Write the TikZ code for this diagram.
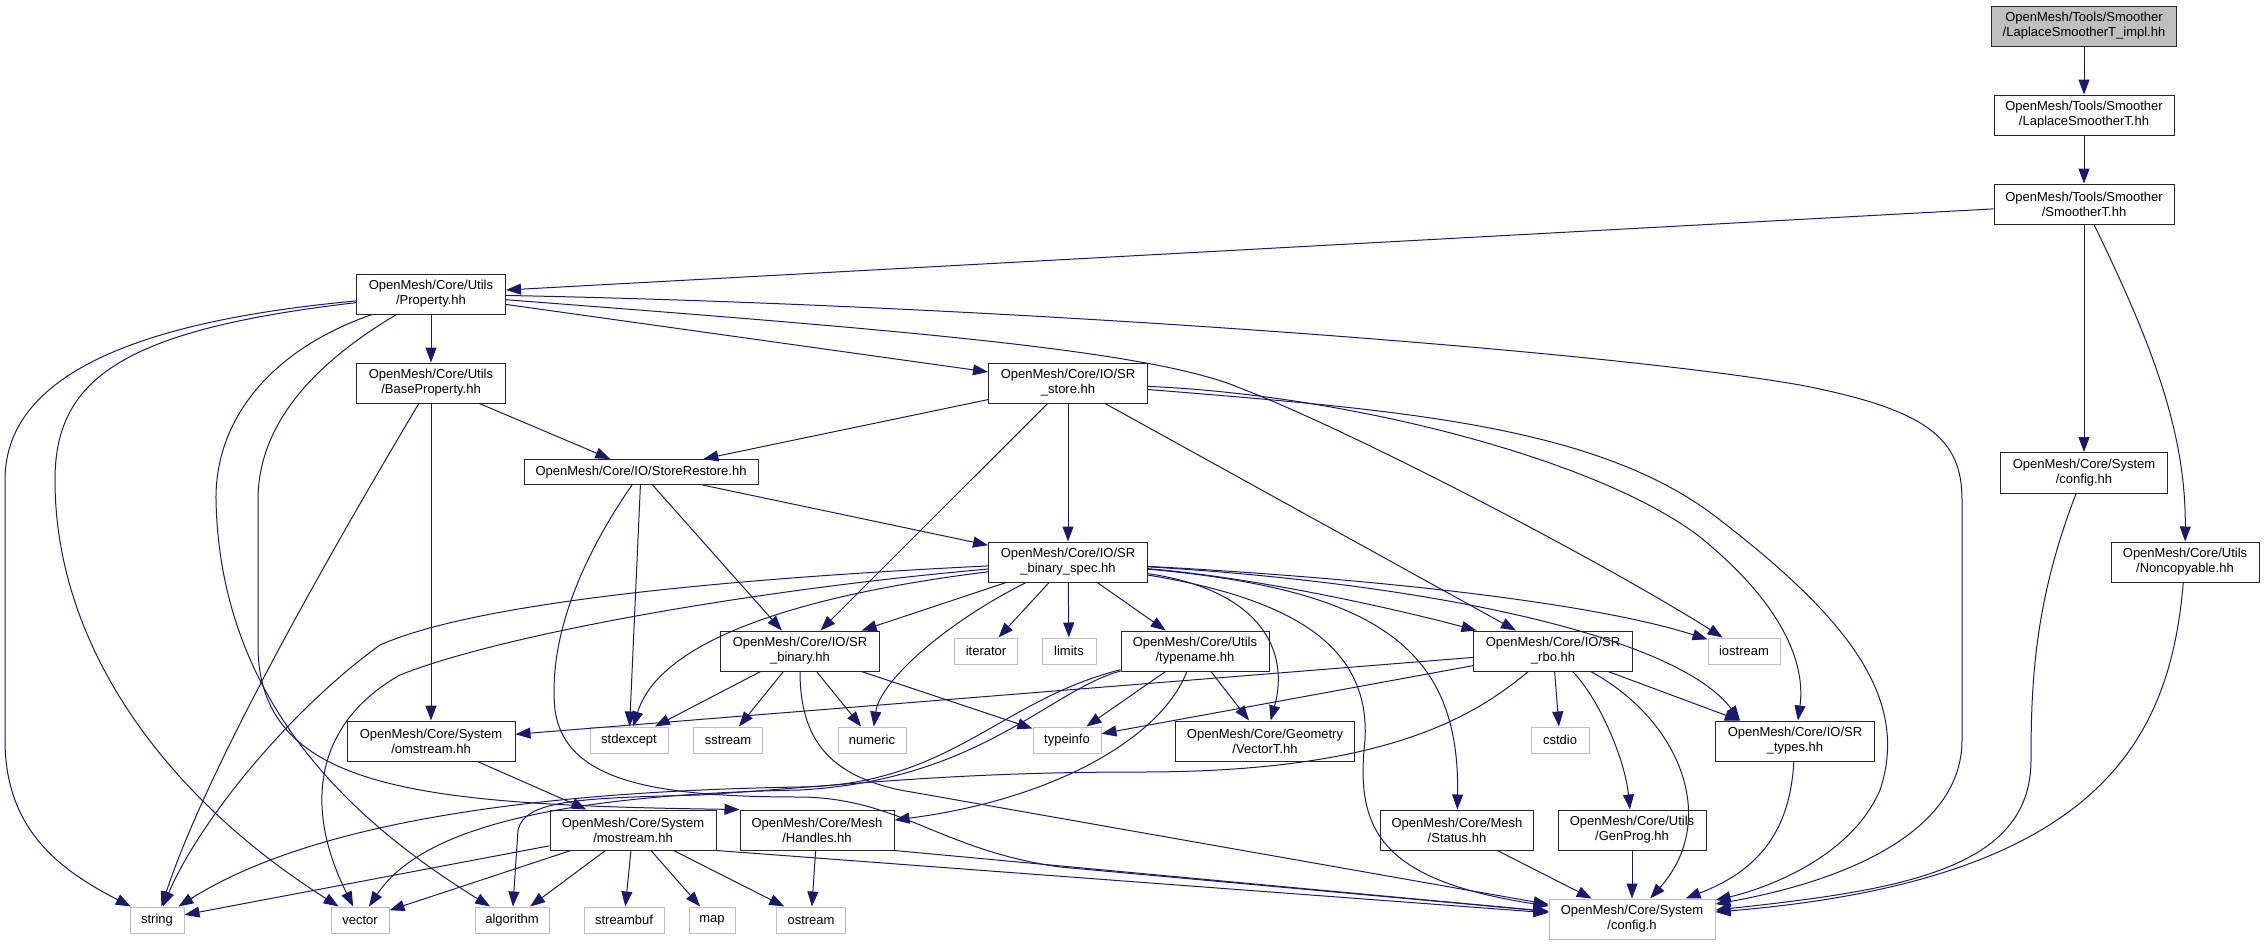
\PassOptionsToPackage{svgnames}{xcolor}
\documentclass[tikz,border=0pt]{standalone}
\usepackage{fontspec}
\setmainfont{Liberation Sans}
\usetikzlibrary{arrows.meta}

\tikzset{
  file/.style={draw=black!85, fill=white, line width=1pt, minimum height=40, inner sep=0pt, align=center},
  root/.style={file, fill=black!25},
  sys/.style={draw=black!25, fill=white, line width=1pt, minimum height=26, inner sep=0pt, align=center},
  dep/.style={draw=MidnightBlue, line width=1pt, -{Triangle[length=15pt,width=11pt]}}
}

\begin{document}
\begin{tikzpicture}[x=1pt, y=-1pt, font=\fontsize{13}{15}\selectfont]
  \useasboundingbox (0,0) rectangle (2265,945);
  \node[root, minimum width=185] (1) at (2084,26) {OpenMesh/Tools/Smoother\\/LaplaceSmootherT\_impl.hh};
  \node[file, minimum width=180] (2) at (2084,115) {OpenMesh/Tools/Smoother\\/LaplaceSmootherT.hh};
  \node[file, minimum width=180] (3) at (2084,204) {OpenMesh/Tools/Smoother\\/SmootherT.hh};
  \node[file, minimum width=149] (4) at (431,294) {OpenMesh/Core/Utils\\/Property.hh};
  \node[file, minimum width=167, minimum height=41] (5) at (2084,473) {OpenMesh/Core/System\\/config.hh};
  \node[file, minimum width=148] (6) at (2185,562) {OpenMesh/Core/Utils\\/Noncopyable.hh};
  \node[sys, minimum width=166, minimum height=40] (7) at (1632,919) {OpenMesh/Core/System\\/config.h};
  \node[file, minimum width=149] (8) at (431,383) {OpenMesh/Core/Utils\\/BaseProperty.hh};
  \node[file, minimum width=159] (9) at (1068,383) {OpenMesh/Core/IO/SR\\\_store.hh};
  \node[file, minimum width=234, minimum height=25] (10) at (641,472) {OpenMesh/Core/IO/StoreRestore.hh};
  \node[file, minimum width=159] (11) at (1068,562) {OpenMesh/Core/IO/SR\\\_binary\_spec.hh};
  \node[file, minimum width=159] (12) at (800,651) {OpenMesh/Core/IO/SR\\\_binary.hh};
  \node[file, minimum width=148] (13) at (1195,651) {OpenMesh/Core/Utils\\/typename.hh};
  \node[file, minimum width=159] (14) at (1553,651) {OpenMesh/Core/IO/SR\\\_rbo.hh};
  \node[sys, minimum width=72] (15) at (1744,651) {iostream};
  \node[sys, minimum width=63] (16) at (986,651) {iterator};
  \node[sys, minimum width=54] (17) at (1069,651) {limits};
  \node[file, minimum width=168] (18) at (431,741) {OpenMesh/Core/System\\/omstream.hh};
  \node[sys, minimum width=78] (19) at (629,740) {stdexcept};
  \node[sys, minimum width=69] (20) at (728,740) {sstream};
  \node[sys, minimum width=68] (21) at (872,740) {numeric};
  \node[sys, minimum width=68] (22) at (1067,740) {typeinfo};
  \node[file, minimum width=179] (23) at (1265,741) {OpenMesh/Core/Geometry\\/VectorT.hh};
  \node[sys, minimum width=58] (24) at (1560,740) {cstdio};
  \node[file, minimum width=159] (25) at (1795,741) {OpenMesh/Core/IO/SR\\\_types.hh};
  \node[file, minimum width=166] (26) at (633,830) {OpenMesh/Core/System\\/mostream.hh};
  \node[file, minimum width=154] (27) at (817,830) {OpenMesh/Core/Mesh\\/Handles.hh};
  \node[file, minimum width=153] (28) at (1457,830) {OpenMesh/Core/Mesh\\/Status.hh};
  \node[file, minimum width=148] (29) at (1632,830) {OpenMesh/Core/Utils\\/GenProg.hh};
  \node[sys, minimum width=54] (30) at (157,920) {string};
  \node[sys, minimum width=58] (31) at (360,920) {vector};
  \node[sys, minimum width=74] (32) at (512,920) {algorithm};
  \node[sys, minimum width=80] (33) at (624,920) {streambuf};
  \node[sys, minimum width=46] (34) at (712,920) {map};
  \node[sys, minimum width=69] (35) at (811,920) {ostream};

  \draw[dep] (1) -- (2);
  \draw[dep] (2) -- (3);
  \draw[dep] (3) -- (4);
  \draw[dep] (3) -- (5);
  \draw[dep] (3) .. controls (2150,340) and (2186,430) .. (6);
  \draw[dep] (5) .. controls (2035,600) and (2031,680) .. (2031,760) .. controls (2031,870) and (1900,890) .. (7);
  \draw[dep] (6) .. controls (2170,740) and (2100,880) .. (7);

  \draw[dep] (4) -- (8);
  \draw[dep] (4) -- (9);
  \draw[dep] (4) .. controls (150,320) and (5,370) .. (5,480) -- (5,740) .. controls (5,830) and (60,870) .. (30);
  \draw[dep] (4) .. controls (120,330) and (55,380) .. (55,480) .. controls (55,650) and (170,800) .. (31);
  \draw[dep] (4) .. controls (270,350) and (215,420) .. (216,500) .. controls (220,700) and (350,820) .. (32);
  \draw[dep] (4) .. controls (320,360) and (258,420) .. (258,500) -- (258,650) .. controls (262,790) and (420,805) .. (27.north west);
  \draw[dep] (4) .. controls (900,330) and (1150,350) .. (1240,388) .. controls (1350,430) and (1600,560) .. (15);
  \draw[dep] (4) .. controls (1000,305) and (1600,350) .. (1800,385) .. controls (1930,410) and (1962,440) .. (1962,500) -- (1962,740) .. controls (1962,830) and (1850,880) .. (7);

  \draw[dep] (8) -- (10);
  \draw[dep] (8) -- (18);
  \draw[dep] (8) .. controls (290,620) and (200,790) .. (30);

  \draw[dep] (9) -- (10);
  \draw[dep] (9) -- (11);
  \draw[dep] (9) -- (12);
  \draw[dep] (9) -- (14);
  \draw[dep] (9) .. controls (1350,395) and (1600,460) .. (1700,537) .. controls (1790,610) and (1805,670) .. (25);
  \draw[dep] (9) .. controls (1400,410) and (1600,425) .. (1720,520) .. controls (1850,620) and (1910,700) .. (1880,790) .. controls (1850,860) and (1760,890) .. (7);

  \draw[dep] (10) -- (11);
  \draw[dep] (10) -- (12);
  \draw[dep] (10) -- (19);
  \draw[dep] (10) .. controls (580,560) and (548,640) .. (555,710) .. controls (565,780) and (650,797) .. (800,797) .. controls (900,798) and (940,850) .. (1060,867) -- (7);

  \draw[dep] (11) -- (12);
  \draw[dep] (11) -- (16);
  \draw[dep] (11) -- (17);
  \draw[dep] (11) -- (13);
  \draw[dep] (11) .. controls (1260,578) and (1400,610) .. (14);
  \draw[dep] (11) .. controls (1400,580) and (1600,605) .. (15);
  \draw[dep] (11) .. controls (1450,585) and (1680,640) .. ([xshift=-55]25.north);
  \draw[dep] (11) .. controls (700,580) and (470,605) .. (380,645) .. controls (290,710) and (200,820) .. (30);
  \draw[dep] (11) .. controls (750,590) and (500,635) .. (400,675) .. controls (320,720) and (300,800) .. (31);
  \draw[dep] (11) .. controls (800,595) and (660,640) .. (19);
  \draw[dep] (11) .. controls (950,620) and (880,680) .. (21);
  \draw[dep] (11) .. controls (1260,590) and (1290,650) .. (23);
  \draw[dep] (11) .. controls (1380,590) and (1460,650) .. (28);
  \draw[dep] (11) .. controls (1300,600) and (1370,650) .. (1365,740) .. controls (1355,830) and (1380,880) .. (7);

  \draw[dep] (12) -- (19);
  \draw[dep] (12) -- (20);
  \draw[dep] (12) -- (21);
  \draw[dep] (12) -- (22);
  \draw[dep] (12) .. controls (800,740) and (830,775) .. (900,790) -- (7);

  \draw[dep] (13) -- (22);
  \draw[dep] (13) -- (23);
  \draw[dep] (13) .. controls (1160,740) and (1050,800) .. (27);
  \draw[dep] (13) .. controls (1000,700) and (950,785) .. (800,787) .. controls (500,792) and (300,830) .. (30);
  \draw[dep] (13) .. controls (1050,690) and (980,780) .. (800,790) .. controls (550,795) and (420,830) .. (31);

  \draw[dep] (14) -- (18);
  \draw[dep] (14) -- (22);
  \draw[dep] (14) -- (24);
  \draw[dep] (14) -- (25);
  \draw[dep] (14) .. controls (1600,700) and (1625,760) .. (29);
  \draw[dep] (14) .. controls (1680,720) and (1720,820) .. (7);
  \draw[dep] (14) .. controls (1470,720) and (1380,772) .. (1140,772) .. controls (950,772) and (850,785) .. (700,795) .. controls (580,798) and (525,800) .. (518,830) -- (32);

  \draw[dep] (18) -- (26);
  \draw[dep] (26) -- (30);
  \draw[dep] (26) -- (31);
  \draw[dep] (26) -- (32);
  \draw[dep] (26) -- (33);
  \draw[dep] (26) -- (34);
  \draw[dep] (26) -- (35);
  \draw[dep] (26.south east) -- (7);
  \draw[dep] (27) -- (35);
  \draw[dep] (27.south east) -- (7);
  \draw[dep] (28) -- (7);
  \draw[dep] (29) -- (7);
  \draw[dep] (25) .. controls (1790,830) and (1760,870) .. (7);
\end{tikzpicture}
\end{document}
